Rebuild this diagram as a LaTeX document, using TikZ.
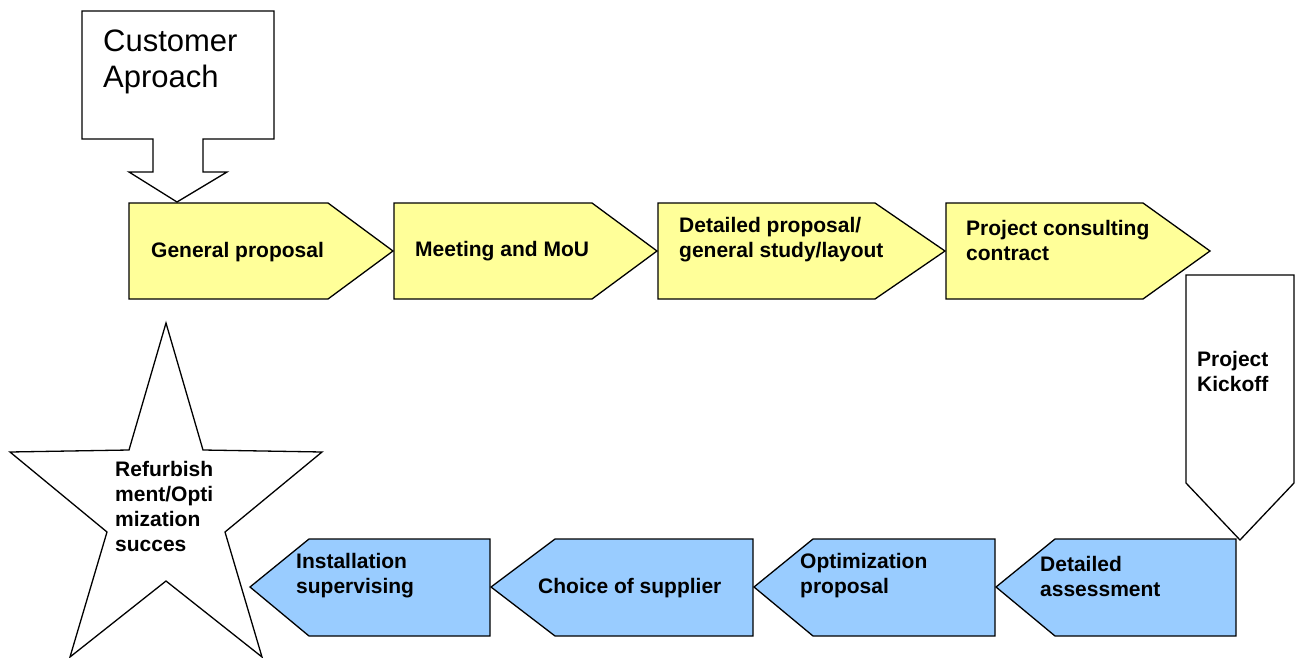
\documentclass[tikz,border=0pt]{standalone}
\usepackage{fontspec}
\setmainfont{Liberation Sans}
\begin{document}
\begin{tikzpicture}[x=1pt,y=-1pt,
  shp/.style={draw=black,line width=1.3pt,line join=miter},
  yel/.style={shp,fill=yellowfill},
  blu/.style={shp,fill=bluefill},
  lbl/.style={inner sep=0pt,anchor=west,align=left,font=\bfseries\fontsize{21}{25}\selectfont},
  big/.style={inner sep=0pt,anchor=west,align=left,font=\fontsize{31}{36}\selectfont}]
\definecolor{yellowfill}{HTML}{FFFF99}
\definecolor{bluefill}{HTML}{99CCFF}
\useasboundingbox (0,0) rectangle (1298,658);
% callout
\draw[shp,fill=white] (82,11) -- (274,11) -- (274,139) -- (203,139) -- (203,172) -- (227,172) -- (177,202) -- (129,172) -- (153,172) -- (153,139) -- (82,139) -- cycle;
\node[big] (cust) at (103,62) {Customer\\Aproach};
% yellow row
\draw[yel] (129,203) -- (328,203) -- (393,251) -- (328,299) -- (129,299) -- cycle;
\draw[yel] (394,203) -- (592,203) -- (657,251) -- (592,299) -- (394,299) -- cycle;
\draw[yel] (658,203) -- (875,203) -- (945,251) -- (875,299) -- (658,299) -- cycle;
\draw[yel] (946,203) -- (1143,203) -- (1210,251) -- (1143,299) -- (946,299) -- cycle;
\node[lbl] (gp) at (151,252) {General proposal};
\node[lbl] (mm) at (415,251) {Meeting and MoU};
\node[lbl] (dp) at (679,240) {Detailed proposal/\\general study/layout};
\node[lbl] (pc) at (966,240) {Project consulting\\contract};
% kickoff
\draw[shp,fill=white] (1186,275) -- (1294,275) -- (1294,483) -- (1240,540) -- (1186,483) -- cycle;
\node[lbl] (pk) at (1197,371) {Project\\Kickoff};
% blue row
\draw[blu] (250,587) -- (309,539) -- (490,539) -- (490,636) -- (309,636) -- cycle;
\draw[blu] (491,587) -- (555,539) -- (753,539) -- (753,636) -- (555,636) -- cycle;
\draw[blu] (754,587) -- (813,539) -- (995,539) -- (995,636) -- (813,636) -- cycle;
\draw[blu] (996,587) -- (1055,539) -- (1236,539) -- (1236,636) -- (1055,636) -- cycle;
\node[lbl] (is) at (296,576) {Installation\\supervising};
\node[lbl] (cs) at (538,588) {Choice of supplier};
\node[lbl] (op) at (800,576) {Optimization\\proposal};
\node[lbl] (da) at (1040,576) {Detailed\\assessment};
% star
\draw[shp,fill=white] (166,323) -- (203,450) -- (322,452) -- (225,532) -- (262,657) -- (166,581) -- (70,657) -- (107,532) -- (10,452) -- (129,450) -- cycle;
\node[lbl] (st) at (115,506) {Refurbish\\ment/Opti\\mization\\succes};
\end{tikzpicture}
\end{document}
